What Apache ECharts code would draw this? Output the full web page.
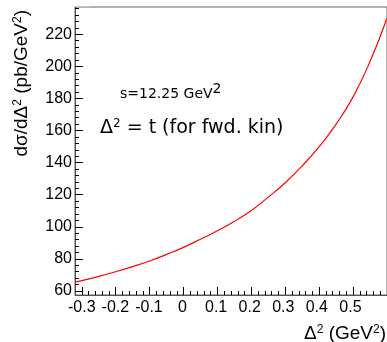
<!DOCTYPE html>
<html>
<head>
<meta charset="utf-8" />
<title>dsigma/dDelta2</title>
<script src="https://cdn.jsdelivr.net/npm/echarts@6/dist/echarts.min.js"></script>
<style>
  html, body { margin: 0; padding: 0; background: #fff; }
  #main { width: 387px; height: 342px; }
</style>
</head>
<body>
<div id="main"></div>
<script>
// curve: Delta^2 (GeV^2) vs dsigma/dDelta^2 (pb/GeV^2)
var deltaSq = [-0.32, -0.3, -0.25, -0.2, -0.15, -0.1, -0.05, 0, 0.05, 0.1, 0.15, 0.2, 0.25, 0.3, 0.35, 0.4, 0.45, 0.5, 0.55, 0.6];
var dsigma  = [65.5, 66.5, 69.1, 72.0, 75.2, 78.7, 82.8, 87.2, 92.2, 97.5, 103.5, 110.2, 118.5, 127.5, 138, 150, 164, 181, 203, 230];

var xRange = [-0.32, 0.6];
var yRange = [57.5, 237];
var xTickRange = [-0.3, 0.6];
var yTickRange = [60, 240];

var curve = deltaSq.map(function (x, i) { return [x, dsigma[i]]; });

// plot frame in pixels
var L = 75, T = 7, B = 295, W = 313;
var pxX = W / (xRange[1] - xRange[0]);
var pxY = (B - T) / (yRange[1] - yRange[0]);

var labelFont = 'Liberation Sans, Arial, sans-serif';

var xTickGrid = { left: L + (xTickRange[0] - xRange[0]) * pxX, top: T, width: (xTickRange[1] - xTickRange[0]) * pxX, bottom: 342 - B };
var yTickGrid = { left: L, width: W, top: B - (yTickRange[1] - yRange[0]) * pxY, bottom: 342 - (B - (yTickRange[0] - yRange[0]) * pxY) };

var myChart = echarts.init(document.getElementById('main'));
var option = {
  animation: false,
  grid: [
    { left: L, top: T, width: W, bottom: 342 - B, show: true, backgroundColor: 'rgba(0,0,0,0)', borderColor: '#666' },
    xTickGrid,
    yTickGrid,
    echarts.util.clone(xTickGrid),
    echarts.util.clone(yTickGrid)
  ],
  xAxis: [
    // frame
    { gridIndex: 0, type: 'value', min: xRange[0], max: xRange[1],
      axisLine: { onZero: false }, axisTick: { show: false }, axisLabel: { show: false }, splitLine: { show: false } },
    // x ticks
    { gridIndex: 1, type: 'value', min: xTickRange[0], max: xTickRange[1], interval: 0.1,
      axisLine: { show: false, onZero: false },
      axisTick: { show: true, inside: true, length: 8, lineStyle: { color: '#000' } },
      minorTick: { show: true, splitNumber: 5, length: 4, lineStyle: { color: '#000' } },
      axisLabel: { show: false }, splitLine: { show: false } },
    { gridIndex: 2, type: 'value', show: false },
    // x labels
    { gridIndex: 3, type: 'value', min: xTickRange[0], max: xTickRange[1], interval: 0.1,
      axisLine: { show: false, onZero: false }, axisTick: { show: false }, splitLine: { show: false },
      axisLabel: {
        fontSize: 16, color: '#000', margin: 5, fontFamily: labelFont,
        formatter: function (v) { return v > 0.55 ? '' : String(+v.toFixed(1)); }
      } },
    { gridIndex: 4, type: 'value', show: false }
  ],
  yAxis: [
    { gridIndex: 0, type: 'value', min: yRange[0], max: yRange[1],
      axisLine: { show: true, onZero: false }, axisTick: { show: false }, axisLabel: { show: false }, splitLine: { show: false } },
    { gridIndex: 1, type: 'value', show: false },
    // y ticks
    { gridIndex: 2, type: 'value', min: yTickRange[0], max: yTickRange[1], interval: 20,
      axisLine: { show: false, onZero: false },
      axisTick: { show: true, inside: true, length: 8, lineStyle: { color: '#000' } },
      minorTick: { show: true, splitNumber: 5, length: 4, lineStyle: { color: '#000' } },
      axisLabel: { show: false }, splitLine: { show: false } },
    { gridIndex: 3, type: 'value', show: false },
    // y labels
    { gridIndex: 4, type: 'value', min: yTickRange[0], max: yTickRange[1], interval: 20,
      axisLine: { show: false, onZero: false }, axisTick: { show: false }, splitLine: { show: false },
      axisLabel: {
        fontSize: 16, color: '#000', margin: 3, fontFamily: labelFont,
        formatter: function (v) { return v > 230 ? '' : String(v); }
      } }
  ],
  graphic: [
    // hides the 240 tick that sits above the frame
    { type: 'rect', left: 70, top: 0, z: 100, shape: { width: 20, height: 6.3 }, style: { fill: '#fff' } },
    {
      type: 'text', x: 22, y: 10, rotation: Math.PI / 2,
      style: {
        text: '{t|dσ/dΔ}{s|2}{t| (pb/GeV}{s|2}{t|)}',
        align: 'right', verticalAlign: 'middle',
        rich: {
          t: { fontSize: 19, fontFamily: labelFont, fill: '#000' },
          s: { fontSize: 12, fontFamily: labelFont, fill: '#000', padding: [0, 0, 9, 0] }
        }
      }
    },
    {
      type: 'text', x: 386, y: 334,
      style: {
        text: '{t|Δ}{s|2}{t| (GeV}{s|2}{t|)}',
        align: 'right', verticalAlign: 'middle',
        rich: {
          t: { fontSize: 19, fontFamily: labelFont, fill: '#000' },
          s: { fontSize: 12, fontFamily: labelFont, fill: '#000', padding: [0, 0, 9, 0] }
        }
      }
    },
    {
      type: 'text', x: 120, y: 94,
      style: {
        text: '{t|s=12.25 GeV}{s|2}',
        align: 'left', verticalAlign: 'middle',
        rich: {
          t: { fontSize: 14, fontFamily: 'DejaVu Sans', fill: '#000' },
          s: { fontSize: 14, fontFamily: 'DejaVu Sans', fill: '#000', padding: [0, 0, 10, 0] }
        }
      }
    },
    {
      type: 'text', x: 100, y: 128,
      style: {
        text: '{t|Δ}{s|2}{t| = t (for fwd. kin)}',
        align: 'left', verticalAlign: 'middle',
        rich: {
          t: { fontSize: 19, fontFamily: 'DejaVu Sans', fill: '#000' },
          s: { fontSize: 12, fontFamily: 'DejaVu Sans', fill: '#000', padding: [0, 0, 9, 0] }
        }
      }
    }
  ],
  series: [
    {
      type: 'line', xAxisIndex: 0, yAxisIndex: 0,
      data: curve, smooth: true, showSymbol: false, clip: true,
      lineStyle: { color: '#ff0000', width: 1.2 }
    }
  ]
};
myChart.setOption(option);
</script>
</body>
</html>
